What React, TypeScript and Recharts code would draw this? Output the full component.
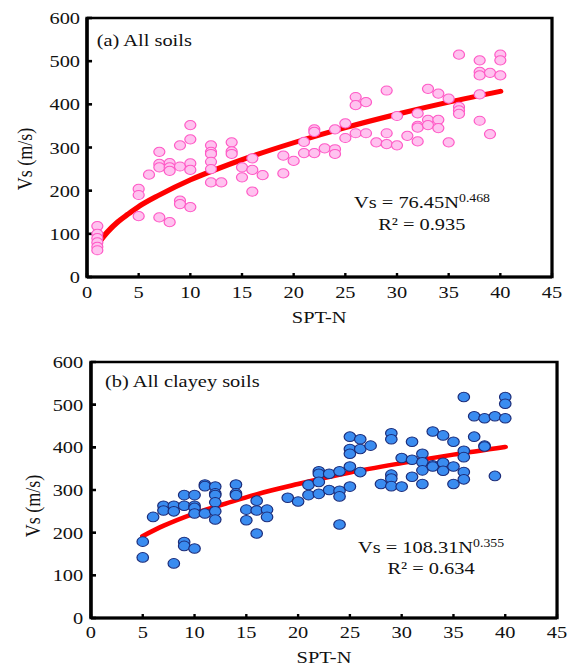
import React from 'react';
import { ComposedChart, Scatter, Line, XAxis, YAxis, ReferenceArea } from 'recharts';

// source figure is stretched sideways, so draw narrow and scale the whole thing
const STRETCH = 1.2;
const W = 476;
const FONT = '"Liberation Serif", "Times New Roman", serif';

const xTicks = [0, 5, 10, 15, 20, 25, 30, 35, 40, 45];
const yTicks = [0, 100, 200, 300, 400, 500, 600];

// (a) all soils: [SPT-N, Vs]
const allSoils = [
  [1, 118], [1, 100], [1, 90], [1, 80], [1, 70], [1, 62],
  [5, 204], [5, 190], [5, 141], [6, 237],
  [7, 290], [7, 262], [7, 254], [7, 138],
  [8, 264], [8, 254], [8, 246], [8, 127],
  [9, 305], [9, 256], [9, 177], [9, 169],
  [10, 352], [10, 319], [10, 263], [10, 248], [10, 162],
  [12, 305], [12, 290], [12, 285], [12, 267], [12, 250], [12, 219], [13, 219],
  [14, 312], [14, 291], [14, 285], [15, 254], [15, 231],
  [16, 275], [16, 248], [16, 198], [17, 236], [19, 281], [19, 240], [20, 269],
  [21, 313], [21, 287], [22, 342], [22, 336], [22, 287], [23, 298],
  [24, 342], [24, 296], [24, 285], [25, 356], [25, 322],
  [26, 417], [26, 398], [26, 333], [27, 405], [27, 333], [28, 312],
  [29, 432], [29, 333], [29, 308], [30, 373], [30, 305], [31, 327],
  [32, 379], [32, 350], [32, 346], [32, 314], [33, 436], [33, 364], [33, 352],
  [34, 425], [34, 364], [34, 345], [35, 413], [35, 312],
  [36, 515], [36, 394], [36, 386], [36, 378],
  [38, 502], [38, 475], [38, 467], [38, 423], [38, 362], [39, 473], [39, 331],
  [40, 515], [40, 502], [40, 467],
];

// (b) all clayey soils
const claySoils = [
  [5, 179], [5, 142], [6, 237], [7, 263], [7, 252],
  [8, 263], [8, 250], [8, 128], [9, 288], [9, 263], [9, 178], [9, 169],
  [10, 288], [10, 263], [10, 258], [10, 245], [10, 163],
  [11, 313], [11, 309], [11, 245],
  [12, 308], [12, 292], [12, 288], [12, 271], [12, 250], [12, 231],
  [14, 313], [14, 292], [14, 288], [15, 254], [15, 229],
  [16, 275], [16, 252], [16, 198], [17, 254], [17, 237], [19, 282], [20, 273],
  [21, 312], [21, 288], [22, 344], [22, 338], [22, 319], [22, 291], [23, 338], [23, 300],
  [24, 344], [24, 298], [24, 285], [24, 219],
  [25, 425], [25, 396], [25, 385], [25, 355], [25, 308],
  [26, 419], [26, 396], [26, 342], [27, 404], [28, 314],
  [29, 433], [29, 419], [29, 336], [29, 327], [29, 309], [30, 375], [30, 308],
  [31, 413], [31, 371], [31, 331], [32, 385], [32, 365], [32, 346], [32, 314],
  [33, 437], [33, 358], [33, 355], [34, 428], [34, 364], [34, 345],
  [35, 413], [35, 355], [35, 314], [36, 518], [36, 392], [36, 377], [36, 342], [36, 325],
  [37, 473], [37, 425], [38, 468], [38, 404], [38, 402], [39, 473], [39, 333],
  [40, 518], [40, 502], [40, 468],
];

// fitted curves
const fitAllN = [1, 2, 3, 4, 5, 7, 10, 13, 16, 20, 25, 30, 35, 40];
const fitAllV = [76, 105, 128, 146, 163, 190, 225, 254, 280, 311, 346, 377, 405, 430];
const fitClayN = [5, 7, 10, 13, 16, 20, 25, 30, 35, 40];
const fitClayV = [192, 216, 245, 268, 290, 314, 341, 363, 383, 401];

const toRows = (pts: number[][]) => pts.map(([n, v]) => ({ n, v }));
const zip = (ns: number[], vs: number[]) => ns.map((n, i) => ({ n, v: vs[i] }));

const pinkDot = (p: any) => (
  <circle cx={p.cx} cy={p.cy} r={4.6} fill="#ffc2ef" stroke="#ff5ac6" strokeWidth={1} />
);
const blueDot = (p: any) => (
  <circle cx={p.cx} cy={p.cy} r={4.8} fill="#3a8cf0" stroke="#1c2d7a" strokeWidth={1} />
);

const txt = { fontFamily: FONT, fill: '#111' };

function Panel(props: {
  height: number;
  margin: any;
  xTickMargin: number;
  yTickMargin: number;
  points: number[][];
  fit: { n: number; v: number }[];
  dot: (p: any) => React.ReactElement;
  lineWidth: number;
  children: React.ReactNode;
}) {
  return (
    <ComposedChart width={W} height={props.height} margin={props.margin}>
      <XAxis
        type="number"
        dataKey="n"
        domain={[0, 45]}
        ticks={xTicks}
        interval={0}
        height={50}
        tickSize={-4}
        tickMargin={props.xTickMargin}
        axisLine={{ stroke: '#000', strokeWidth: 3 }}
        tickLine={{ stroke: '#000', strokeWidth: 2 }}
        tick={{ ...txt, fontSize: 17 }}
      />
      <YAxis
        type="number"
        dataKey="v"
        domain={[0, 600]}
        ticks={yTicks}
        interval={0}
        width={60}
        tickSize={-4.2}
        tickMargin={props.yTickMargin}
        axisLine={{ stroke: '#000', strokeWidth: 2.6 }}
        tickLine={{ stroke: '#000', strokeWidth: 2.6 }}
        tick={{ ...txt, fontSize: 17 }}
      />
      <ReferenceArea x1={0} x2={45} y1={0} y2={600} fill="none" stroke="#000" strokeWidth={2.7} />
      <Scatter data={toRows(props.points)} dataKey="v" shape={props.dot} isAnimationActive={false} />
      <Line
        data={props.fit}
        dataKey="v"
        type="monotone"
        stroke="#ff0000"
        strokeWidth={props.lineWidth}
        strokeLinecap="round"
        dot={false}
        activeDot={false}
        isAnimationActive={false}
      />
      {props.children}
    </ComposedChart>
  );
}

export default function App() {
  return (
    <div
      style={{
        position: 'absolute',
        left: 0,
        top: 0,
        width: W,
        height: 668,
        background: '#fff',
        transform: `scaleX(${STRETCH})`,
        transformOrigin: '0 0',
      }}
    >
      <div style={{ position: 'absolute', left: 0, top: 0 }}>
        <Panel
          height={327}
          margin={{ top: 18, right: 16, left: 12.5, bottom: 0 }}
          xTickMargin={13}
          yTickMargin={10}
          points={allSoils}
          fit={zip(fitAllN, fitAllV)}
          dot={pinkDot}
          lineWidth={5}
        >
          <text x={80.6} y={46} fontSize={17} {...txt}>(a) All soils</text>
          <text x={351.7} y={208.5} fontSize={17} textAnchor="middle" {...txt}>
            Vs = 76.45N<tspan dy={-6} fontSize={11.5}>0.468</tspan>
          </text>
          <text x={351.5} y={230} fontSize={17} textAnchor="middle" {...txt}>R² = 0.935</text>
          <text x={266} y={322.7} fontSize={17} textAnchor="middle" {...txt}>SPT-N</text>
          <text transform="translate(26.4,159) rotate(-90)" fontSize={18} textAnchor="middle" {...txt}>
            Vs (m/s)
          </text>
        </Panel>
      </div>
      <div style={{ position: 'absolute', left: 0, top: 340 }}>
        <Panel
          height={328}
          margin={{ top: 22, right: 11.8, left: 15.8, bottom: 0 }}
          xTickMargin={11.5}
          yTickMargin={10.6}
          points={claySoils}
          fit={zip(fitClayN, fitClayV)}
          dot={blueDot}
          lineWidth={4.5}
        >
          <text x={87.5} y={47.3} fontSize={17} {...txt}>(b) All clayey soils</text>
          <text x={359.2} y={213.3} fontSize={17} textAnchor="middle" {...txt}>
            Vs = 108.31N<tspan dy={-6} fontSize={11.5}>0.355</tspan>
          </text>
          <text x={359.2} y={234.3} fontSize={17} textAnchor="middle" {...txt}>R² = 0.634</text>
          <text x={270} y={322.7} fontSize={17} textAnchor="middle" {...txt}>SPT-N</text>
          <text transform="translate(33.3,166) rotate(-90)" fontSize={18} textAnchor="middle" {...txt}>
            Vs (m/s)
          </text>
        </Panel>
      </div>
    </div>
  );
}
